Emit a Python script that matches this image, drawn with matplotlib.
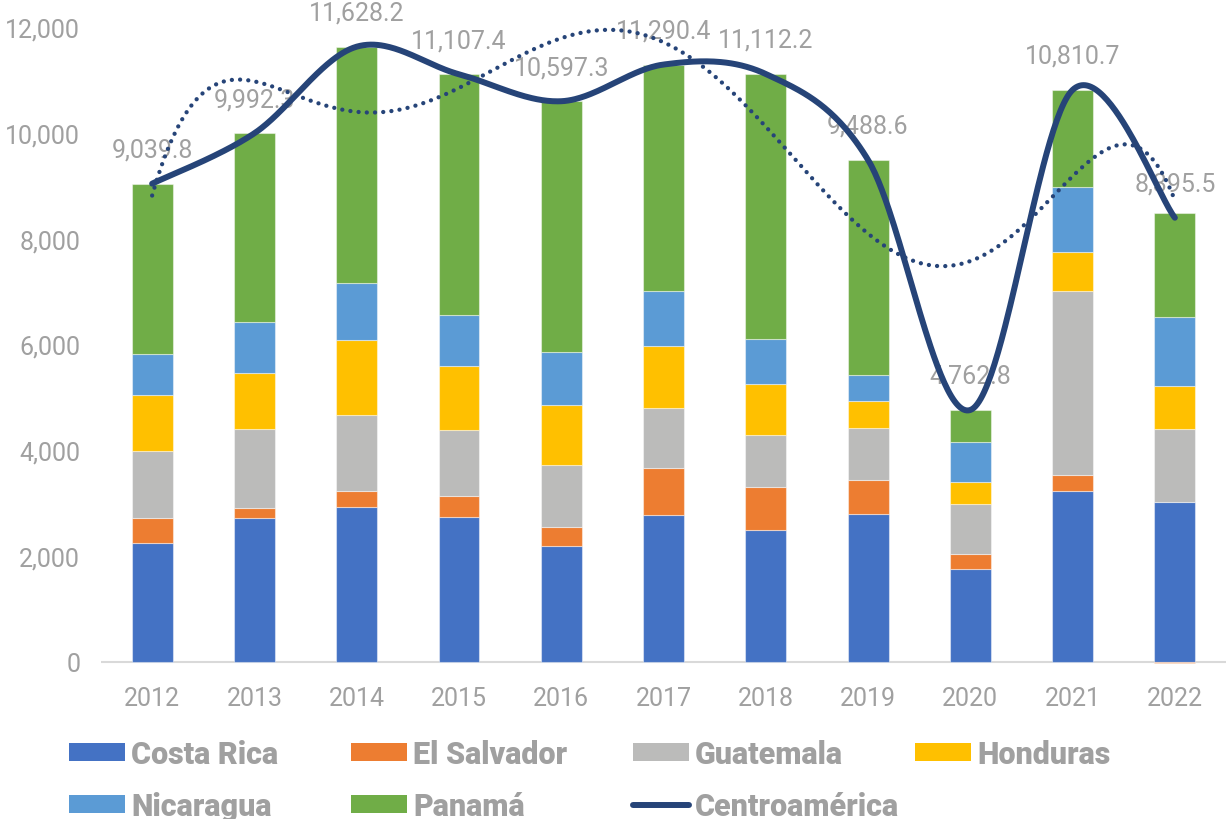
import numpy as np
import matplotlib
matplotlib.use("Agg")
import matplotlib.pyplot as plt
from matplotlib.patches import Patch
from matplotlib.lines import Line2D
from matplotlib.font_manager import FontProperties

# ---------------- data ----------------
years = ['2012', '2013', '2014', '2015', '2016', '2017', '2018', '2019', '2020', '2021', '2022']
costa_rica = [2256, 2728, 2930, 2747, 2199, 2779, 2489, 2803, 1758, 3233, 3031]
el_salvador = [466, 189, 303, 397, 347, 888, 825, 643, 284, 308, -25]
guatemala = [1273, 1488, 1443, 1235, 1178, 1129, 983, 977, 945, 3466, 1367]
honduras = [1058, 1058, 1417, 1210, 1134, 1178, 958, 505, 422, 737, 819]
nicaragua = [769, 958, 1078, 964, 996, 1033, 845, 491, 744, 1229, 1299]
panama = [3218, 3571, 4457, 4554, 4743, 4283, 5012, 4070, 610, 1838, 1972]
centroamerica = [9039.8, 9992.3, 11628.2, 11107.4, 10597.3, 11290.4, 11112.2,
                 9488.6, 4762.8, 10810.7, 8395.5]

series_names = ['Costa Rica', 'El Salvador', 'Guatemala', 'Honduras', 'Nicaragua', 'Panamá']
series_vals = [costa_rica, el_salvador, guatemala, honduras, nicaragua, panama]
series_cols = ['#4472C4', '#ED7D31', '#BBBBBA', '#FFC000', '#5B9BD5', '#70AD47']
line_name = 'Centroamérica'
line_col = '#264478'
yticks = [0, 2000, 4000, 6000, 8000, 10000, 12000]

# ---------------- fonts ----------------
FONT = ['Roboto', 'DejaVu Sans']
plt.rcParams['font.family'] = FONT
TXT = '#A0A0A0'
fs_tick = 18
fs_lab = 18
fs_leg = 22

W, H = 1231, 820
fig = plt.figure(figsize=(W / 100, H / 100), dpi=100)
ymin = -60
px_per = (663 - 28) / 12000.0
y_bot_px = 663 - ymin * px_per
ax = fig.add_axes([101 / W, (H - y_bot_px) / H, (1226 - 101) / W, (y_bot_px - 28) / H])

x = np.arange(len(years))
pos_base = np.zeros(len(years))
neg_base = np.zeros(len(years))
for name, vals, col in zip(series_names, series_vals, series_cols):
    v = np.array(vals, dtype=float)
    bottom = np.where(v >= 0, pos_base, neg_base)
    ax.bar(x, v, width=0.4, bottom=bottom, color=col, edgecolor=(1, 1, 1, 0.45),
           linewidth=0.8, zorder=2)
    pos_base = pos_base + np.where(v >= 0, v, 0)
    neg_base = neg_base + np.where(v < 0, v, 0)

# Excel-like smoothed line (Bezier with 1/6 tangent control points)
tot = np.array(centroamerica, dtype=float)
P = np.column_stack([x.astype(float), tot])
n = len(P)
curve = []
t = np.linspace(0, 1, 60)
for i in range(n - 1):
    p0 = P[i - 1] if i > 0 else P[i]
    p1 = P[i]
    p2 = P[i + 1]
    p3 = P[i + 2] if i + 2 < n else P[i + 1]
    c1 = p1 + (p2 - p0) / 6.0
    c2 = p2 - (p3 - p1) / 6.0
    seg = ((1 - t) ** 3)[:, None] * p1 + (3 * (1 - t) ** 2 * t)[:, None] * c1 \
        + (3 * (1 - t) * t ** 2)[:, None] * c2 + (t ** 3)[:, None] * p2
    curve.append(seg if i == 0 else seg[1:])
curve = np.vstack(curve)
ax.plot(curve[:, 0], curve[:, 1], color=line_col, lw=4.3, solid_capstyle='round',
        solid_joinstyle='round', zorder=5)

# polynomial trendline (order 6) of the total
coef = np.polyfit(x + 1.0, tot, 6)
xf = np.linspace(0, len(years) - 1, 400)
ax.plot(xf, np.polyval(coef, xf + 1.0), color=line_col, lw=3.1,
        linestyle=(0, (0.01, 1.9)), dash_capstyle='round', zorder=4)

# data labels
for xi, v in zip(x, centroamerica):
    ax.annotate(f'{v:,.1f}', (xi, v), xytext=(0, 24.5), textcoords='offset points',
                ha='center', va='center', color=TXT, fontsize=fs_lab, zorder=3)

ax.axhline(0, color='#D9D9D9', lw=1.5, zorder=1)
ax.set_xlim(-0.5, len(years) - 0.5)
ax.set_ylim(ymin, 12000)
ax.set_yticks(yticks)
ax.set_yticklabels([f'{v:,}' for v in yticks])
ax.set_xticks(x)
ax.set_xticklabels(years)
ax.tick_params(axis='both', length=0, colors=TXT, labelsize=fs_tick)
ax.tick_params(axis='y', pad=15)
ax.tick_params(axis='x', pad=15)
for s in ax.spines.values():
    s.set_visible(False)

# legend entries placed like the reference
fs_px = fs_leg * 100 / 72
leg_pos = [(69, 755), (351, 755), (633, 755), (915, 755), (69, 807), (351, 807), (633, 807)]
handles = [Patch(facecolor=c, edgecolor='none') for c in series_cols] + \
    [Line2D([0], [0], color=line_col, lw=4.3, solid_capstyle='round')]
labels = series_names + [line_name]
for (lx, ly), h, lab in zip(leg_pos, handles, labels):
    fig.legend(handles=[h], labels=[lab], loc='center left',
               bbox_to_anchor=(lx / W, 1 - ly / H), frameon=False, borderpad=0,
               borderaxespad=0, handlelength=56 / fs_px, handleheight=16 / fs_px,
               handletextpad=6 / fs_px,
               prop=FontProperties(family=FONT, weight='black', size=fs_leg),
               labelcolor=TXT)

fig.savefig('out.png', dpi=100)
